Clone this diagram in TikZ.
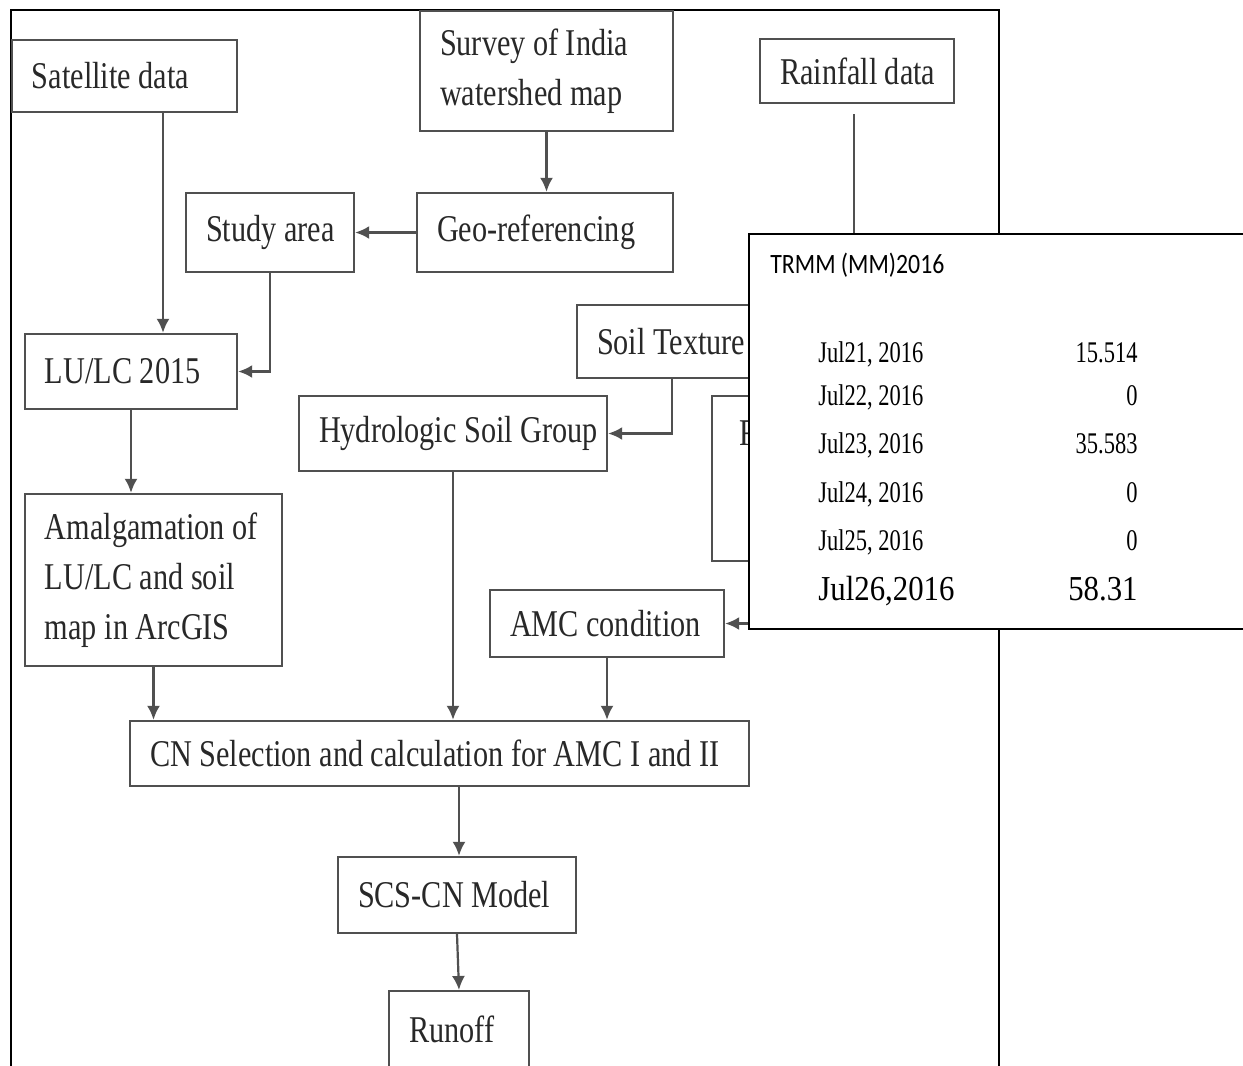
\documentclass[tikz,border=0pt]{standalone}
\usepackage{fontspec}
\setmainfont[FakeStretch=0.8]{Liberation Serif}
\newfontfamily\rowfont[FakeStretch=0.75]{Liberation Serif}
\newfontfamily\lastfont[FakeStretch=0.88]{Liberation Serif}
\newfontfamily\trmmfont[FakeStretch=0.85]{Carlito}
\usetikzlibrary{arrows.meta}
\definecolor{boxline}{RGB}{80,80,80}
\definecolor{txt}{RGB}{40,40,40}
\newcommand\lbx[2]{\makebox[#1][l]{#2}}
\begin{document}
\begin{tikzpicture}[x=0.5pt,y=-0.5pt,
  bx/.style={draw=boxline,line width=1.2pt,inner ysep=0pt,inner xsep=10pt,text=txt,
    font=\fontsize{18.9}{25}\selectfont},
  bxl/.style={bx,align=flush left},
  arr/.style={draw=boxline,line width=1.1pt,-{Latex[length=7pt,width=6.5pt]}},
  frame/.style={draw=black,line width=1.1pt},
  ovl/.style={draw=black,fill=white,line width=1.1pt,inner sep=0pt},
  rowtxt/.style={inner sep=0pt,font=\rowfont\fontsize{15}{18}\selectfont},
  lasttxt/.style={inner sep=0pt,font=\lastfont\fontsize{17.5}{20}\selectfont},
]
\useasboundingbox (0,0) rectangle (1243,1066);
% outer frame
\draw[frame] (11,1075) -- (11,10) -- (999,10) -- (999,1075);

% boxes
\node[bx,minimum height=36pt] (sat) at (124.5,76) {\lbx{92.5pt}{Satellite data}};
\node[bxl,text width=106.5pt,minimum height=60pt] (survey) at (546.5,71) {Survey of India\\watershed map};
\node[bx,minimum height=32pt] (rain) at (857,71) {\lbx{77pt}{Rainfall data}};
\node[bx,minimum height=39.5pt] (study) at (270,232.5) {\lbx{64pt}{Study area}};
\node[bx,minimum height=39.5pt] (geo) at (545,232.5) {\lbx{108pt}{Geo-referencing}};
\node[bx,minimum height=37.5pt] (lulc) at (131,371.5) {\lbx{86pt}{LU/LC 2015}};
\node[bx,minimum height=36.5pt] (soil) at (672,341.5) {\lbx{75pt}{Soil Texture}};
\node[bx,minimum height=37.5pt] (hsg) at (453,433.5) {\lbx{134pt}{Hydrologic Soil Group}};
\node[bx,minimum width=94pt,minimum height=82.5pt,inner sep=0pt] (rbox) at (806,478.5) {};
\node[inner sep=0pt,anchor=base west,text=txt,font=\fontsize{18.9}{25}\selectfont] (rtxt) at (739,445) {R};
\node[bxl,text width=108.5pt,minimum height=86pt] (amal) at (153.5,580) {Amalgamation of\\LU/LC and soil\\map in ArcGIS};
\node[bx,minimum height=33.5pt] (amc) at (607,623.5) {\lbx{97pt}{AMC condition}};
\node[bx,minimum height=32.5pt] (cn) at (439.5,753.5) {\lbx{289.5pt}{CN Selection and calculation for AMC I and II}};
\node[bx,minimum height=38pt] (scs) at (457,895) {\lbx{99pt}{SCS-CN Model}};
\node[bx,minimum height=38pt,anchor=north] (runoff) at (459,990) {\lbx{50pt}{Runoff}};

% helper coordinates
\coordinate (xsat) at (163,0);
\coordinate (xrain) at (854,0);
\coordinate (xcn) at (459,0);

% connectors
\draw[arr] (sat.south -| xsat) -- (lulc.north -| xsat);
\draw[arr] (survey.south) -- (survey.south |- geo.north);
\draw[arr] (geo.west) -- (study.east);
\draw[arr] (study.south) |- (lulc.east);
\draw[arr] ([yshift=-5pt]rain.south -| xrain) -- (rbox.north -| xrain);
\draw[arr] (soil.south) |- (hsg.east);
\draw[arr] (lulc.south) -- (lulc.south |- amal.north);
\draw[arr] (hsg.south) -- (hsg.south |- cn.north);
\draw[arr] (amal.south) -- (amal.south |- cn.north);
\draw[arr] (amc.south) -- (amc.south |- cn.north);
\draw[arr] (rbox.south) |- (amc.east);
\draw[arr] (cn.south -| xcn) -- (scs.north -| xcn);
\draw[arr] (scs.south) -- (runoff.north);

% TRMM overlay
\node[ovl,anchor=north west,minimum width=252pt,minimum height=197.5pt] (ovl) at (748,233) {};
\node[inner sep=0pt,anchor=base west,font=\trmmfont\fontsize{14}{16}\selectfont] (trmm) at (770,273) {TRMM (MM)2016};
\node[rowtxt,anchor=base west] (d1) at (818,362) {Jul21, 2016};
\node[rowtxt,anchor=base east] (v1) at (1138,362) {15.514};
\node[rowtxt,anchor=base west] (d2) at (818,405) {Jul22, 2016};
\node[rowtxt,anchor=base east] (v2) at (1138,405) {0};
\node[rowtxt,anchor=base west] (d3) at (818,453) {Jul23, 2016};
\node[rowtxt,anchor=base east] (v3) at (1138,453) {35.583};
\node[rowtxt,anchor=base west] (d4) at (818,502) {Jul24, 2016};
\node[rowtxt,anchor=base east] (v4) at (1138,502) {0};
\node[rowtxt,anchor=base west] (d5) at (818,550) {Jul25, 2016};
\node[rowtxt,anchor=base east] (v5) at (1138,550) {0};
\node[lasttxt,anchor=base west] (d6) at (818,600) {Jul26,2016};
\node[lasttxt,anchor=base east] (v6) at (1138,600) {58.31};
\end{tikzpicture}
\end{document}
